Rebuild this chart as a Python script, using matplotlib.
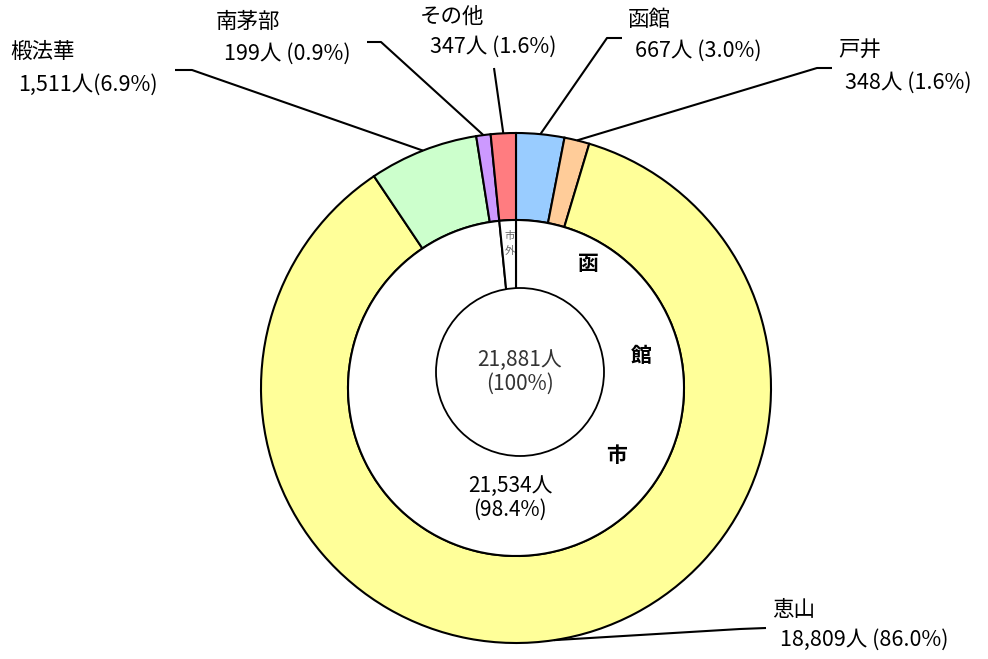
import numpy as np
import matplotlib
matplotlib.use("Agg")
import matplotlib.pyplot as plt
from matplotlib.patches import Circle

plt.rcParams['font.family'] = ['Noto Sans CJK JP', 'DejaVu Sans']

# outer ring: areas, clockwise from top
areas = ['函館', '戸井', '恵山', '椴法華', '南茅部', 'その他']
counts = [667, 348, 18809, 1511, 199, 347]
pcts = ['3.0', '1.6', '86.0', '6.9', '0.9', '1.6']
seps = [' ', ' ', ' ', '', ' ', ' ']
colors = ['#99CCFF', '#FFCC99', '#FFFF99', '#CCFFCC', '#CC99FF', '#FF7C80']

# inner ring: city / outside city
inner_names = ['函館市', '市外']
inner_counts = [21534, 347]
inner_pct = '98.4'
total = 21881

W, H = 988, 659
fig = plt.figure(figsize=(W / 100, H / 100), dpi=100)
ax = fig.add_axes([0, 0, 1, 1])


def Y(y):
    # picture rows are measured from the top
    return H - y


cx, cy = 516, Y(388)
R = 255
edge = dict(edgecolor='black', linewidth=1.5)

wedges, _ = ax.pie(counts, colors=colors, startangle=90, counterclock=False,
                   center=(cx, cy), radius=R,
                   wedgeprops=dict(width=87, **edge), frame=True)
ax.pie(inner_counts, colors=['white', 'white'], startangle=90, counterclock=False,
       center=(cx, cy), radius=168, wedgeprops=edge, frame=True)
ax.set_xlim(0, W)
ax.set_ylim(0, H)
ax.set_aspect('equal')
ax.axis('off')

# centre circle (sits a little off centre in the original)
ax.add_patch(Circle((520, Y(372)), 84, facecolor='white', edgecolor='black',
                    linewidth=1.3, zorder=3))
ax.text(520, Y(372), f'{total:,}人\n(100%)', ha='center', va='center',
        fontsize=15, color='#333333', linespacing=1.15, zorder=4)

# labels inside the inner ring
for ch, (x, y) in zip('函館市', [(588, 263), (641, 355), (617, 455)]):
    ax.text(x, Y(y), ch, ha='center', va='center', fontsize=15,
            fontweight='bold', zorder=4)
ax.text(510, Y(498), f'{inner_counts[0]:,}人\n({inner_pct}%)', ha='center',
        va='center', fontsize=15, linespacing=1.1, zorder=4)
for ch, y in zip(inner_names[1], [236, 251]):
    ax.text(510, Y(y), ch, ha='center', va='center', fontsize=7.5,
            color='#666666', zorder=4)

# outer labels with leader lines
name_pos = [(628, 20), (838, 50), (772, 610), (10, 52), (216, 22), (420, 17)]
num_pos = [(635, 51), (845, 83), (780, 640), (18, 85), (224, 54), (430, 47)]
elbows = [[(622, 38), (607, 38)], [(832, 68), (817, 68)],
          [(766, 628), (740, 629)], [(175, 70), (192, 70)],
          [(367, 42), (381, 42)], [(494, 68)]]

for w, name, n, p, s, npos, vpos, elb in zip(wedges, areas, counts, pcts, seps,
                                             name_pos, num_pos, elbows):
    ang = np.deg2rad((w.theta1 + w.theta2) / 2)
    px, py = cx + R * np.cos(ang), cy + R * np.sin(ang)
    xs = [e[0] for e in elb] + [px]
    ys = [Y(e[1]) for e in elb] + [py]
    ax.plot(xs, ys, color='black', linewidth=1.5, solid_capstyle='butt', zorder=1)
    ax.text(npos[0], Y(npos[1]), name, ha='left', va='center', fontsize=15.5)
    ax.text(vpos[0], Y(vpos[1]), f'{n:,}人{s}({p}%)', ha='left', va='center',
            fontsize=15.5)

fig.savefig('out.png', dpi=100, facecolor='white')
